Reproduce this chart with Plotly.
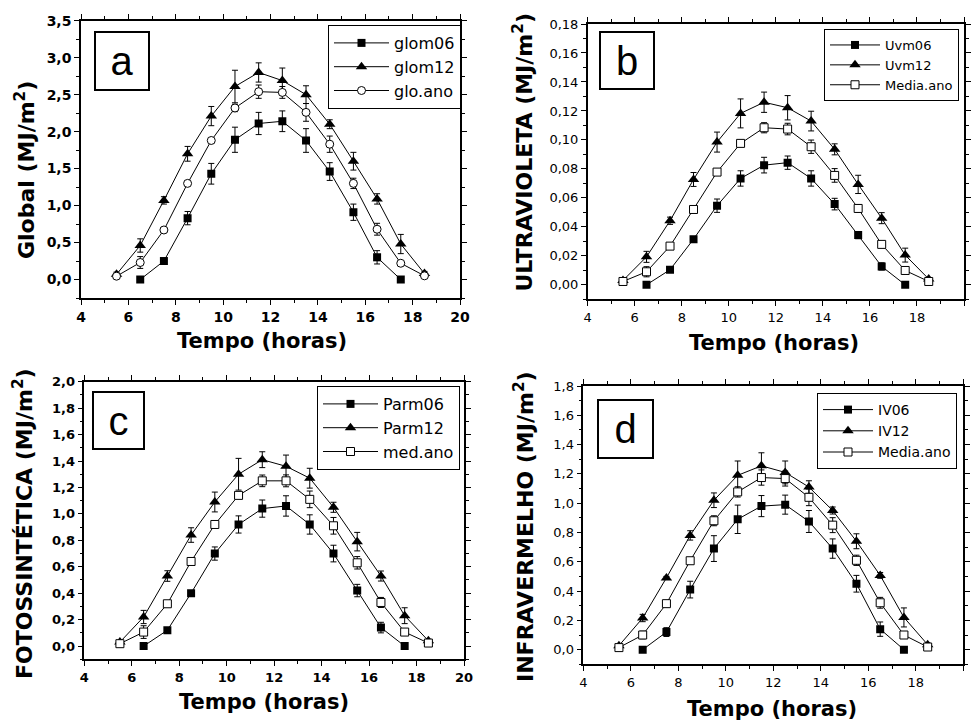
import plotly.graph_objects as go

# ---------------- data ----------------
x_all = [5.5, 6.5, 7.5, 8.5, 9.5, 10.5, 11.5, 12.5, 13.5, 14.5, 15.5, 16.5, 17.5, 18.5]
x_06 = [6.5, 7.5, 8.5, 9.5, 10.5, 11.5, 12.5, 13.5, 14.5, 15.5, 16.5, 17.5]

# Panel a - Global
glom06 = [0.0, 0.25, 0.83, 1.43, 1.89, 2.11, 2.14, 1.88, 1.46, 0.91, 0.30, 0.0]
glom06_err = [0.0, 0.03, 0.09, 0.14, 0.17, 0.15, 0.14, 0.16, 0.12, 0.11, 0.09, 0.0]
glom12 = [0.07, 0.46, 1.07, 1.70, 2.21, 2.61, 2.80, 2.69, 2.50, 2.10, 1.60, 1.09, 0.48, 0.08]
glom12_err = [0.03, 0.09, 0.05, 0.10, 0.13, 0.22, 0.13, 0.17, 0.12, 0.06, 0.12, 0.07, 0.13, 0.03]
gloano = [0.045, 0.23, 0.67, 1.30, 1.88, 2.32, 2.54, 2.53, 2.26, 1.83, 1.30, 0.68, 0.22, 0.05]
gloano_err = [0.02, 0.08, 0.03, 0.03, 0.03, 0.05, 0.09, 0.08, 0.12, 0.11, 0.07, 0.08, 0.02, 0.02]

# Panel b - Ultravioleta
uvm06 = [0.0, 0.0104, 0.0315, 0.0546, 0.0734, 0.0826, 0.0843, 0.0734, 0.0557, 0.0343, 0.0127, 0.0]
uvm06_err = [0.0, 0.001, 0.0015, 0.0046, 0.0053, 0.0054, 0.0046, 0.0053, 0.004, 0.0025, 0.0025, 0.0]
uvm12 = [0.003, 0.0193, 0.0442, 0.0727, 0.0985, 0.1183, 0.126, 0.1222, 0.113, 0.0935, 0.0693, 0.046, 0.0205, 0.004]
uvm12_err = [0.001, 0.0038, 0.0025, 0.0048, 0.0069, 0.010, 0.007, 0.0084, 0.0068, 0.0038, 0.0063, 0.0038, 0.0048, 0.001]
uvano = [0.0023, 0.009, 0.0267, 0.052, 0.0778, 0.0976, 0.1084, 0.1075, 0.0953, 0.0755, 0.0527, 0.0279, 0.0099, 0.0023]
uvano_err = [0.001, 0.0035, 0.001, 0.001, 0.001, 0.001, 0.0035, 0.004, 0.0046, 0.0047, 0.0027, 0.002, 0.001, 0.001]

# Panel c - Fotossintetica
parm06 = [0.0, 0.12, 0.40, 0.70, 0.92, 1.04, 1.06, 0.92, 0.70, 0.42, 0.14, 0.0]
parm06_err = [0.0, 0.01, 0.02, 0.05, 0.065, 0.065, 0.077, 0.073, 0.063, 0.047, 0.04, 0.0]
parm12 = [0.03, 0.22, 0.53, 0.84, 1.09, 1.30, 1.41, 1.36, 1.27, 1.05, 0.79, 0.53, 0.23, 0.04]
parm12_err = [0.01, 0.05, 0.04, 0.055, 0.075, 0.12, 0.06, 0.085, 0.075, 0.038, 0.07, 0.038, 0.06, 0.01]
medano = [0.018, 0.106, 0.32, 0.64, 0.92, 1.14, 1.25, 1.25, 1.11, 0.91, 0.63, 0.33, 0.106, 0.023]
medano_err = [0.01, 0.048, 0.01, 0.01, 0.01, 0.02, 0.044, 0.045, 0.063, 0.063, 0.047, 0.038, 0.025, 0.01]

# Panel d - Infravermelho
iv06 = [0.0, 0.12, 0.41, 0.69, 0.89, 0.98, 0.99, 0.875, 0.69, 0.45, 0.14, 0.0]
iv06_err = [0.0, 0.03, 0.057, 0.088, 0.097, 0.072, 0.065, 0.075, 0.066, 0.057, 0.049, 0.0]
iv12 = [0.027, 0.216, 0.49, 0.78, 1.02, 1.19, 1.255, 1.21, 1.11, 0.95, 0.74, 0.507, 0.22, 0.034]
iv12_err = [0.01, 0.025, 0.01, 0.032, 0.05, 0.098, 0.089, 0.078, 0.043, 0.024, 0.051, 0.02, 0.065, 0.01]
ivano = [0.014, 0.10, 0.314, 0.607, 0.88, 1.077, 1.175, 1.168, 1.04, 0.85, 0.61, 0.32, 0.10, 0.018]
ivano_err = [0.01, 0.026, 0.01, 0.01, 0.034, 0.035, 0.052, 0.051, 0.057, 0.051, 0.035, 0.037, 0.01, 0.01]

names = {
    "a": ["glom06", "glom12", "glo.ano"],
    "b": ["Uvm06", "Uvm12", "Media.ano"],
    "c": ["Parm06", "Parm12", "med.ano"],
    "d": ["IV06", "IV12", "Media.ano"],
}
y_titles = {
    "a": "Global (MJ/m<sup>2</sup>)",
    "b": "ULTRAVIOLETA (MJ/m<sup>2</sup>)",
    "c": "FOTOSSINTÉTICA (MJ/m<sup>2</sup>)",
    "d": "INFRAVERMELHO (MJ/m<sup>2</sup>)",
}
x_title = "Tempo (horas)"

panels = [
    ("a", (glom06, glom06_err), (glom12, glom12_err), (gloano, gloano_err), "circle"),
    ("b", (uvm06, uvm06_err), (uvm12, uvm12_err), (uvano, uvano_err), "square"),
    ("c", (parm06, parm06_err), (parm12, parm12_err), (medano, medano_err), "square"),
    ("d", (iv06, iv06_err), (iv12, iv12_err), (ivano, ivano_err), "square"),
]

W, H = 971, 721
def px(x):
    return x / W
def py(y):
    return 1 - y / H

# plot-area pixel boxes (left, right, top, bottom)
boxes = {
    "a": (81, 460, 20.7, 298),
    "b": (587.7, 964, 24, 299.3),
    "c": (84.3, 464, 381.7, 659.3),
    "d": (583.3, 963.3, 386, 664.3),
}
yranges = {"a": [-0.25, 3.5], "b": [-0.01, 0.18], "c": [-0.1, 2.0], "d": [-0.1, 1.8]}
ydticks = {"a": (0.5, 0.25), "b": (0.02, 0.01), "c": (0.2, 0.1), "d": (0.2, 0.1)}
yformats = {"a": ".1f", "b": ".2f", "c": ".1f", "d": ".1f"}
tickfonts = {
    "a": dict(family="DejaVu Sans", size=14, color="black", weight="bold"),
    "b": dict(family="DejaVu Sans", size=13, color="black"),
    "c": dict(family="DejaVu Sans", size=13, color="black", weight="bold"),
    "d": dict(family="DejaVu Sans", size=13, color="black"),
}
# legend: right edge px, top px, font size, symbol item width
legend_pos = {"a": (461, 25, 16, 55), "b": (959, 29, 13, 50), "c": (460, 386, 16, 55), "d": (957, 393, 14, 50)}
letter_boxes = {"a": (95, 149, 32, 90), "b": (600, 654, 32, 89), "c": (93, 144, 392, 449), "d": (598, 653, 400, 458)}
ytitle_pos = {"a": (25, 170), "b": (522.5, 152), "c": (23, 524), "d": (524, 527)}
xtitle_pos = {"a": (262, 341), "b": (774, 343), "c": (264, 702), "d": (772, 709)}

fig = go.Figure()
layout = dict(
    width=W, height=H, margin=dict(l=0, r=0, t=0, b=0, autoexpand=False),
    paper_bgcolor="white", plot_bgcolor="white",
    separators=",.",
    showlegend=True,
    annotations=[],
)

for i, (key, s06, s12, sano, ano_sym) in enumerate(panels):
    n = "" if i == 0 else str(i + 1)
    xa, ya = "x" + n, "y" + n
    leg = "legend" + n
    common = dict(xaxis=xa, yaxis=ya, legend=leg, mode="lines+markers",
                  line=dict(color="black", width=1))
    err = lambda e: dict(type="data", array=e, visible=True, color="black", thickness=1, width=3)
    fig.add_trace(go.Scatter(x=x_06, y=s06[0], error_y=err(s06[1]), name=names[key][0],
                             marker=dict(symbol="square", size=8, color="black"), **common))
    fig.add_trace(go.Scatter(x=x_all, y=s12[0], error_y=err(s12[1]), name=names[key][1],
                             marker=dict(symbol="triangle-up", size=10, color="black"), **common))
    fig.add_trace(go.Scatter(x=x_all, y=sano[0], error_y=err(sano[1]), name=names[key][2],
                             marker=dict(symbol=ano_sym, size=8, color="white",
                                         line=dict(color="black", width=1)), **common))

    l, r, t, b = boxes[key]
    layout["xaxis" + n] = dict(
        domain=[px(l), px(r)], anchor=ya, range=[4, 20], tick0=4, dtick=2, automargin=False,
        tickformat="d", ticks="outside", ticklen=5, tickwidth=1, tickcolor="black",
        linecolor="black", linewidth=1.5, mirror="ticks", showgrid=False, zeroline=False,
        tickfont=tickfonts[key],
        minor=dict(dtick=1, ticks="outside", ticklen=3, tickcolor="black", showgrid=False),
    )
    major, minor = ydticks[key]
    layout["yaxis" + n] = dict(
        domain=[py(b), py(t)], anchor=xa, range=yranges[key], tick0=0, dtick=major, automargin=False,
        tickformat=yformats[key], ticks="outside", ticklen=5, tickwidth=1, tickcolor="black",
        linecolor="black", linewidth=1.5, mirror="ticks", showgrid=False, zeroline=False,
        tickfont=tickfonts[key],
        minor=dict(dtick=minor, tick0=0, ticks="outside", ticklen=3, tickcolor="black", showgrid=False),
    )
    lx, ly, lfs, iw = legend_pos[key]
    layout[leg] = dict(
        x=px(lx), y=py(ly), xanchor="right", yanchor="top",
        bordercolor="black", borderwidth=1, bgcolor="white",
        font=dict(family="DejaVu Sans", size=lfs, color="black"),
        itemwidth=iw, tracegroupgap=0,
    )
    bl, br, bt, bb = letter_boxes[key]
    layout["annotations"].append(dict(
        text=key, xref="paper", yref="paper", x=px((bl + br) / 2), y=py((bt + bb) / 2),
        xanchor="center", yanchor="middle", showarrow=False,
        font=dict(family="Liberation Sans", size=40, color="black"),
        bordercolor="black", borderwidth=2, borderpad=0,
        width=br - bl - 2, height=bb - bt - 2, bgcolor="white",
    ))
    tx, ty = ytitle_pos[key]
    layout["annotations"].append(dict(
        text=y_titles[key], xref="paper", yref="paper", x=px(tx), y=py(ty),
        xanchor="center", yanchor="middle", textangle=-90, showarrow=False,
        font=dict(family="DejaVu Sans", size=22, color="black", weight="bold"),
    ))
    tx, ty = xtitle_pos[key]
    layout["annotations"].append(dict(
        text=x_title, xref="paper", yref="paper", x=px(tx), y=py(ty),
        xanchor="center", yanchor="middle", showarrow=False,
        font=dict(family="DejaVu Sans", size=21, color="black", weight="bold"),
    ))

fig.update_layout(**layout)
fig.write_html("out.html", config={"displayModeBar": False},
               post_script="document.body.style.margin='0';")
